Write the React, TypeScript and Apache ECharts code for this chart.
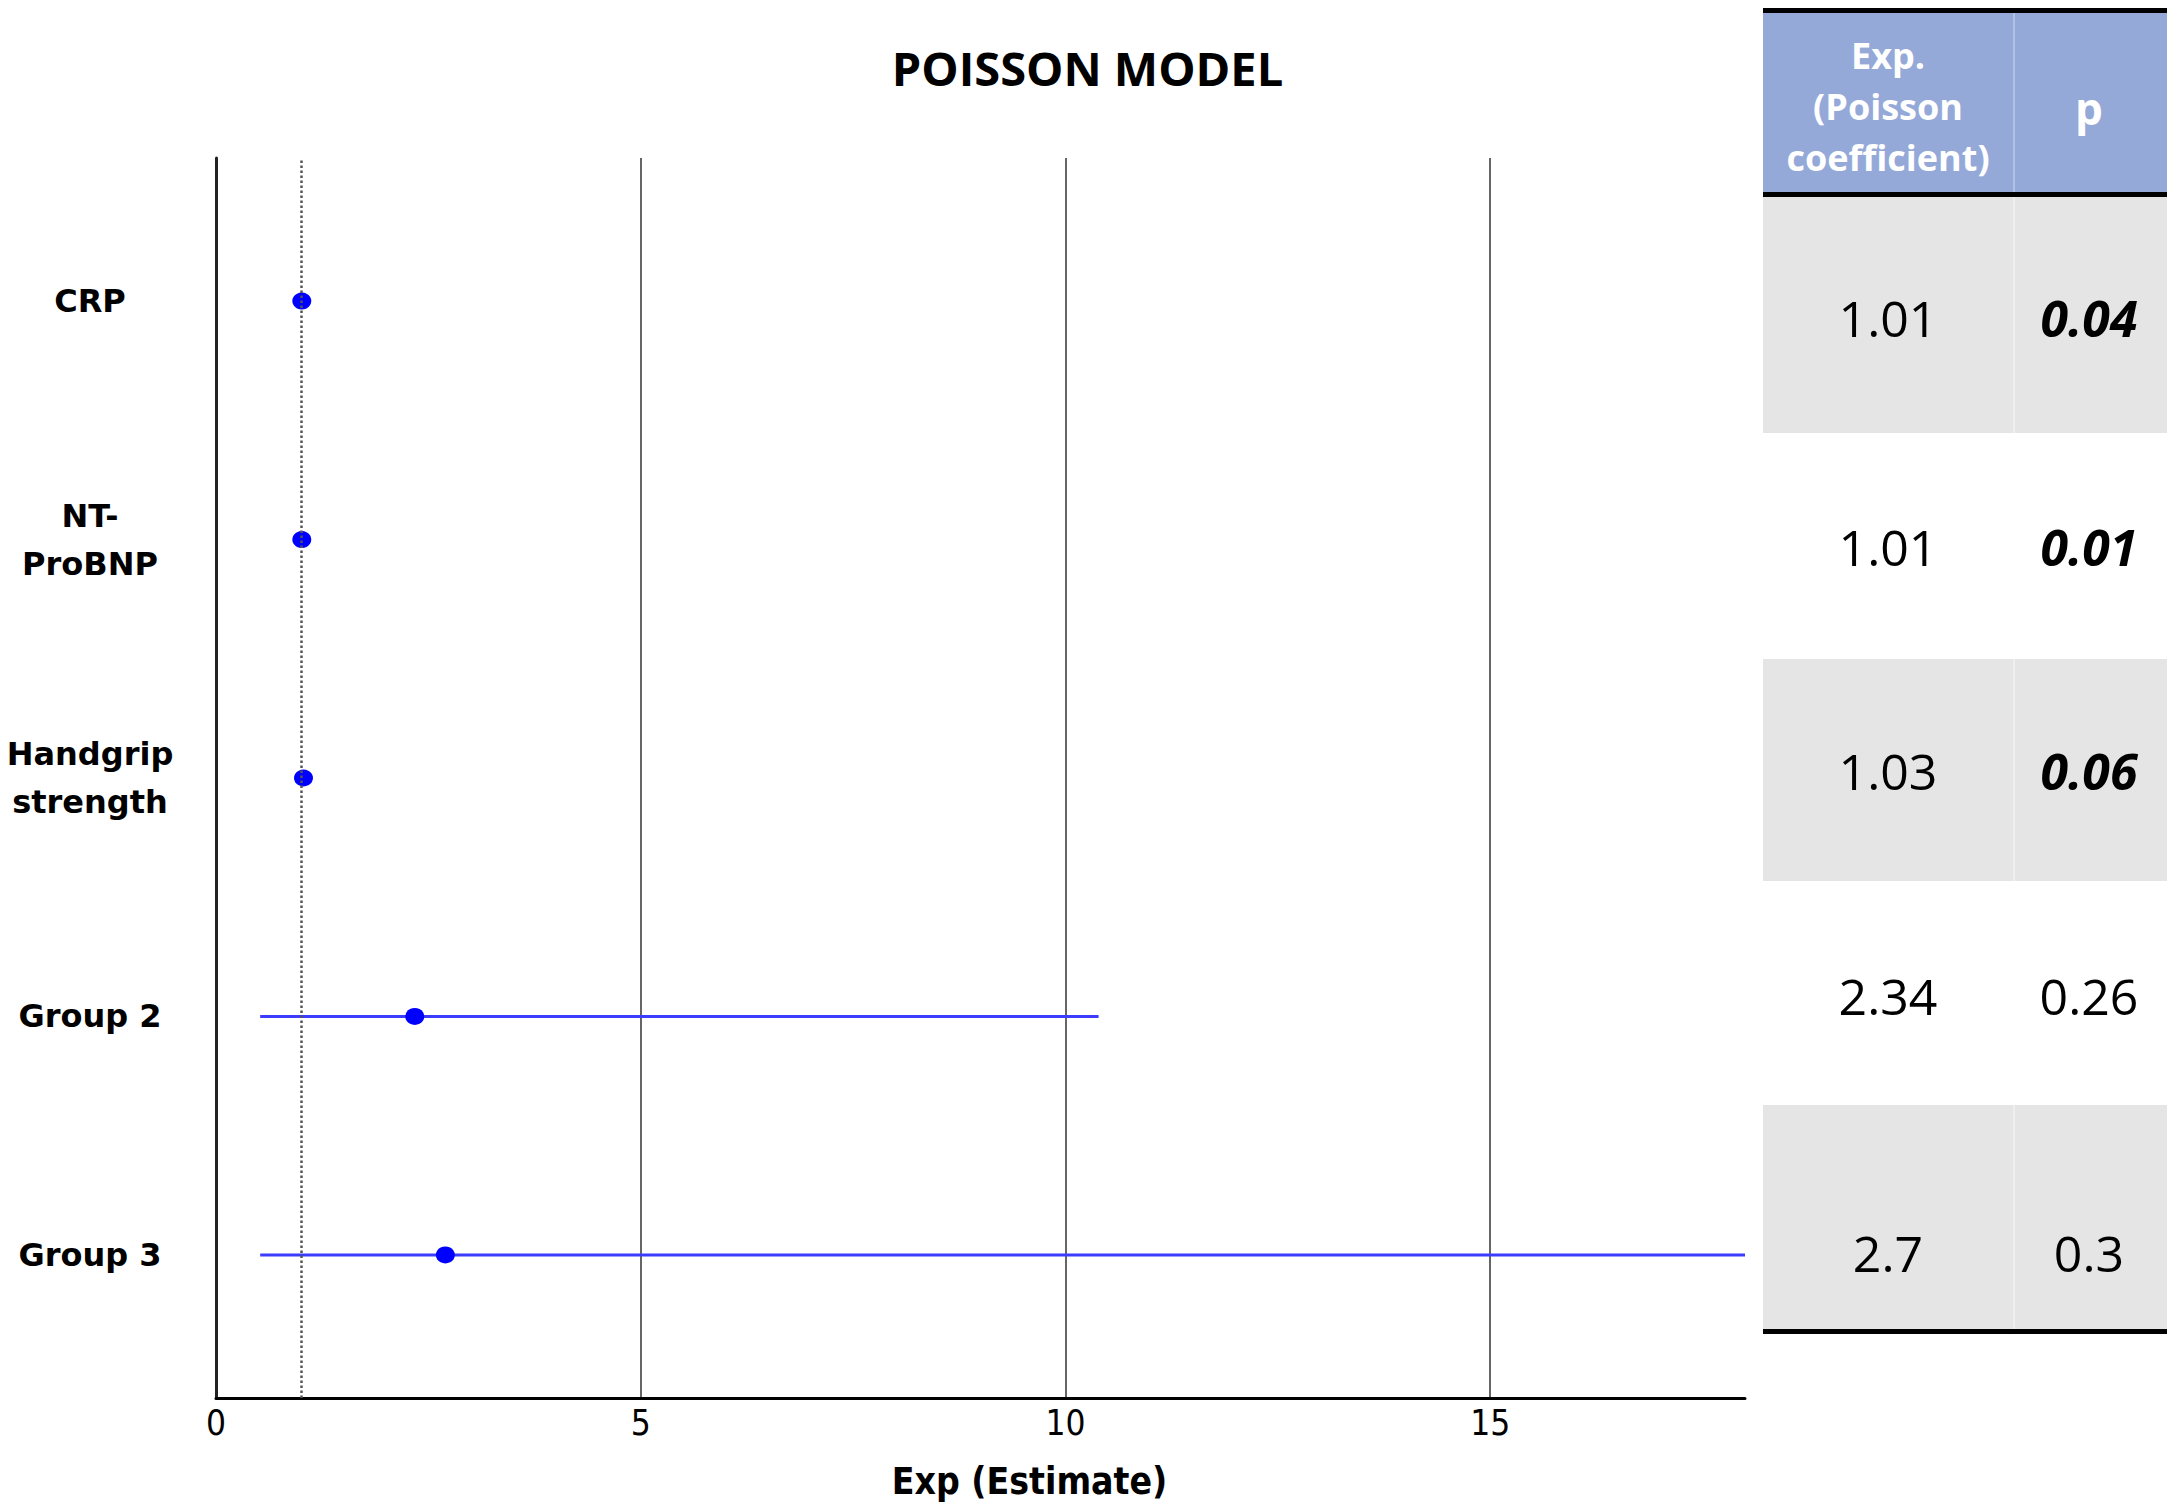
import React, { useEffect, useRef } from 'react';
import * as echarts from 'echarts';

// ---------- data ----------
const categories = ['CRP', 'NT-\nProBNP', 'Handgrip\nstrength', 'Group 2', 'Group 3'];
const estimates = [1.01, 1.01, 1.03, 2.34, 2.7];
const lowerCI = [1.0, 1.0, 1.0, 0.52, 0.52];
const upperCI = [1.02, 1.02, 1.06, 10.39, 18];
const expLabels = ['1.01', '1.01', '1.03', '2.34', '2.7'];
const pLabels = ['0.04', '0.01', '0.06', '0.26', '0.3'];
const pSignificant = [true, true, true, false, false];
const tableHeaders = ['Exp.\n(Poisson\ncoefficient)', 'p'];
const xTicks = [0, 5, 10, 15];
const referenceValue = 1;

const narrowFont = "'DejaVu Sans Condensed', 'Liberation Sans Narrow', 'Open Sans'";

export default function App() {
  const ref = useRef<HTMLDivElement>(null);

  useEffect(() => {
    const chart = echarts.init(ref.current!, null, { renderer: 'svg' });
    const n = categories.length;
    const yPos = (i: number) => n - i;

    // table layout
    const tx0 = 1763, tx1 = 2167, tDiv = 2014;
    const hTop = 11, hBot = 194;
    const rowBounds = [197, 433, 659, 881, 1105, 1329];
    const valueY = [318, 547, 771, 996, 1253];
    const col1X = 1888, col2X = 2089;

    const graphics: any[] = [];
    graphics.push({ type: 'rect', shape: { x: tx0, y: hTop, width: tx1 - tx0, height: hBot - hTop }, style: { fill: '#95a9d9' }, silent: true });
    graphics.push({ type: 'line', shape: { x1: tDiv, y1: hTop, x2: tDiv, y2: hBot }, style: { stroke: '#b3c1e4', lineWidth: 2 }, silent: true });
    for (let i = 0; i < n; i++) {
      if (i % 2 === 0) {
        graphics.push({ type: 'rect', shape: { x: tx0, y: rowBounds[i], width: tx1 - tx0, height: rowBounds[i + 1] - rowBounds[i] }, style: { fill: '#e5e5e5' }, silent: true });
        graphics.push({ type: 'line', shape: { x1: tDiv, y1: rowBounds[i], x2: tDiv, y2: rowBounds[i + 1] }, style: { stroke: '#efefef', lineWidth: 2 }, silent: true });
      }
      graphics.push({ type: 'text', x: col1X, y: valueY[i], style: { text: expLabels[i], fontFamily: 'Open Sans', fontSize: 50, fill: '#000', align: 'center', verticalAlign: 'middle' }, silent: true });
      graphics.push({ type: 'text', x: col2X, y: valueY[i], style: { text: pLabels[i], fontFamily: 'Open Sans', fontSize: 50, fontWeight: pSignificant[i] ? 'bold' : 'normal', fontStyle: pSignificant[i] ? 'italic' : 'normal', fill: '#000', align: 'center', verticalAlign: 'middle' }, silent: true });
    }
    graphics.push({ type: 'rect', shape: { x: tx0, y: hTop - 3, width: tx1 - tx0, height: 5 }, style: { fill: '#000' }, silent: true });
    graphics.push({ type: 'rect', shape: { x: tx0, y: hBot - 2, width: tx1 - tx0, height: 5 }, style: { fill: '#000' }, silent: true });
    graphics.push({ type: 'rect', shape: { x: tx0, y: rowBounds[n], width: tx1 - tx0, height: 5 }, style: { fill: '#000' }, silent: true });
    graphics.push({ type: 'text', x: col1X, y: 106, style: { text: tableHeaders[0], fontFamily: 'Open Sans', fontWeight: 'bold', fontSize: 36, lineHeight: 51, fill: '#fff', align: 'center', verticalAlign: 'middle' }, silent: true });
    graphics.push({ type: 'text', x: col2X, y: 108, style: { text: tableHeaders[1], fontFamily: 'Open Sans', fontWeight: 'bold', fontSize: 44, fill: '#fff', align: 'center', verticalAlign: 'middle' }, silent: true });

    const option: any = {
      animation: false,
      backgroundColor: '#ffffff',
      title: {
        text: 'POISSON MODEL',
        left: 'center',
        top: 39,
        textStyle: { fontFamily: 'Open Sans', fontWeight: 'bold', fontSize: 47, color: '#000' },
      },
      grid: { left: 216, right: 430, top: 158, bottom: 113, containLabel: false },
      xAxis: {
        type: 'value',
        min: 0,
        max: 18,
        interval: 5,
        name: 'Exp (Estimate)',
        nameLocation: 'middle',
        nameGap: 65,
        nameTextStyle: { fontFamily: narrowFont, fontWeight: 'bold', fontSize: 37, color: '#000', padding: [0, 0, 0, 98] },
        axisLine: { show: true, lineStyle: { color: '#000', width: 3 } },
        axisTick: { show: false },
        axisLabel: {
          showMaxLabel: false,
          margin: 7,
          fontFamily: narrowFont,
          fontSize: 35,
          color: '#000',
          formatter: (v: number) => (xTicks.includes(v) ? String(v) : ''),
        },
        splitLine: { show: true, lineStyle: { color: ['#333', '#333', '#333', '#333', 'rgba(0,0,0,0)'], width: 1.5 } },
      },
      yAxis: {
        type: 'value',
        min: 0.4,
        max: 5.6,
        interval: 0.2,
        axisLine: { show: true, lineStyle: { color: '#222', width: 3 } },
        axisTick: { show: false },
        splitLine: { show: false },
        axisLabel: {
          align: 'center',
          margin: 126,
          fontFamily: 'DejaVu Sans',
          fontWeight: 'bold',
          fontSize: 32,
          lineHeight: 48,
          color: '#000',
          formatter: (v: number) => {
            const r = Math.round(v);
            if (Math.abs(v - r) > 1e-6) return '';
            const idx = n - r;
            return categories[idx] ?? '';
          },
        },
      },
      graphic: graphics,
      series: [
        {
          type: 'custom',
          name: 'CI',
          clip: true,
          silent: true,
          renderItem: (params: any, api: any) => {
            const y = api.value(0);
            const p1 = api.coord([api.value(1), y]);
            const p2 = api.coord([api.value(2), y]);
            return {
              type: 'line',
              shape: { x1: p1[0], y1: p1[1], x2: p2[0], y2: p2[1] },
              style: { stroke: '#3c3cff', lineWidth: 3 },
            };
          },
          encode: { x: [1, 2], y: 0 },
          data: categories.map((_, i) => [yPos(i), lowerCI[i], upperCI[i]]),
          z: 2,
        },
        {
          type: 'scatter',
          name: 'Estimate',
          symbol: 'circle',
          symbolSize: [19, 17],
          itemStyle: { color: '#0000ff', opacity: 1 },
          data: categories.map((_, i) => [estimates[i], yPos(i)]),
          z: 3,
          markLine: {
            silent: true,
            symbol: ['none', 'none'],
            label: { show: false },
            lineStyle: { type: 'dotted', color: '#555', width: 2.5 },
            data: [{ xAxis: referenceValue }],
          },
        },
      ],
    };

    chart.setOption(option);
    return () => chart.dispose();
  }, []);

  return (
    <div
      ref={ref}
      style={{ position: 'absolute', left: 0, top: 0, width: 2175, height: 1511, background: '#fff' }}
    />
  );
}
